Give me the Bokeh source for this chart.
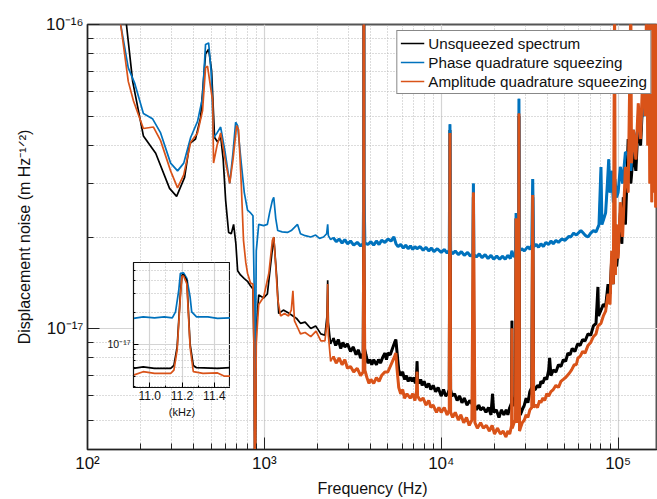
from bokeh.plotting import figure
from bokeh.models import FixedTicker, CustomJSTickFormatter, Legend, LegendItem, Range1d
from bokeh.layouts import column
from bokeh.embed import file_html
from bokeh.resources import INLINE

UNIT = 1e-18  # values below are in units of 1e-18 m Hz^-1/2
FONT = "Liberation Sans"
C_BLACK = "#000000"
C_BLUE = "#0072BD"
C_ORANGE = "#D95319"

# ---------------- main spectrum data (Hz, 1e-18 m/rtHz) ----------------
f_black = [150, 166, 180, 207, 243, 291, 319, 354, 378, 408, 436, 465, 484, 503, 523, 545, 566, 585, 604, 628,
           650, 670, 690, 706, 733, 770, 803, 836, 862, 875, 881, 890, 900, 929, 991, 1040, 1087, 1130, 1175, 1205,
           1280, 1355, 1450, 1520, 1600, 1700, 1830, 1950, 2085, 2200, 2260, 2280, 2300,
           2370, 2450, 2530, 2620, 2700, 2780, 2850, 2950, 3070, 3180, 3300, 3400, 3500, 3620, 3645, 3650, 3655, 3680,
           3750, 3850, 3950, 4050, 4150, 4300, 4420, 4540, 4650, 4800, 4900, 4990, 5150, 5300, 5450, 5540, 5620, 5750,
           5900, 6050, 6200, 6350, 6500, 6680, 6850, 7000, 7150, 7250, 7300, 7350, 7500, 7650, 7800, 8000, 8250, 8500,
           8730, 9000, 9300, 9600, 10000, 10300, 10600, 10900, 11100, 11200, 11300, 11500, 11900, 12300, 12700, 13100,
           13500, 14000, 14500, 15100, 15200, 15300, 15800, 16300, 16700, 17300, 17900, 18500, 19100, 19500, 19800,
           20500, 21200, 21900, 22600, 23300, 23800, 24400, 25000, 25100, 25200, 25800, 26300, 26500, 26700, 27300,
           27500, 27700, 28000, 28700, 29500, 30200, 30900, 31700, 32500, 32900, 33300, 34000, 35000, 36000, 36600,
           37500, 38500, 39500, 40500, 41000, 41700, 43000, 44500, 46000, 47500, 49000, 50500, 52000, 53500, 55000,
           57000, 59000, 61000, 63000, 65000, 67600, 70000, 72500, 75000, 76900, 77500, 80000, 82500, 85000, 87700,
           90000, 92000, 94000, 96000, 98000, 100000, 103000, 105000, 107000, 110000, 114000, 118000, 122000, 126000,
           130000, 134000, 138000, 142000, 146000, 150000, 167000]
v_black = [150, 100, 65, 43, 37.7, 28.9, 27.2, 31.4, 40.6, 42, 49.5, 80, 83, 70.5, 42.5, 41, 43, 36, 26.4, 20.7,
           20.5, 22, 19, 15.5, 15, 14.6, 14.3, 13.8, 13.5, 8, 3, 3, 10, 12.9, 12.6, 13, 16.4, 20, 14.7, 11.2,
           11.5, 11.3, 11, 10.8, 10.4, 10.5, 10, 10.2, 9.6, 9.5, 11, 14.4, 10.5,
           8.9, 9.3, 8.8, 9.2, 8.6, 9.0, 8.7, 8.9, 8.4, 8.7, 8.2, 8.5, 8.0, 8.3, 20, 120, 20, 8.6,
           8.2, 7.7, 7.9, 7.6, 7.9, 7.6, 7.9, 7.7, 8.0, 8.3, 7.9, 8.3, 8.2, 8.6, 9.0, 9.2, 8.4, 7.3,
           7.0, 7.2, 6.8, 7.0, 6.7, 6.9, 6.7, 6.9, 6.6, 7.0, 7.8, 6.8, 6.6, 6.8, 6.5, 6.7, 6.4, 6.6,
           6.3, 6.5, 6.2, 6.4, 6.0, 6.3, 6.0, 6.1, 6.3, 45, 6.3, 6.0, 6.1, 5.8, 6.0, 5.7,
           5.9, 5.6, 5.8, 5.6, 27, 5.7, 5.4, 5.6, 5.4, 5.5, 5.3, 5.5, 5.2, 6.1, 5.3,
           5.4, 5.1, 5.4, 5.2, 5.4, 5.2, 5.5, 5.7, 10.6, 5.6, 5.6, 6.0, 23, 6.0, 6.5,
           50, 5.6, 5.2, 5.4, 5.6, 5.9, 5.7, 6.2, 6.4, 27, 6.3, 6.3, 6.5, 6.4, 6.7,
           6.6, 6.9, 6.8, 7.3, 8.0, 7.0, 7.3, 7.2, 7.6, 7.5, 7.9, 7.8, 8.3, 8.2, 8.6,
           8.4, 8.9, 8.8, 9.2, 9.1, 9.6, 9.5, 10.2, 10.4, 13.7, 11.0, 11.5, 12.0, 11.8, 14.0,
           13, 17, 14, 22, 16, 18, 24, 19, 27, 22, 42, 30, 38, 33,
           48, 40, 58, 50, 80, 110, 130]

f_blue = [150, 154, 170, 185, 207, 233, 259, 295, 323, 350, 383, 419, 447, 465, 484, 500, 516, 540, 566, 600,
          637, 665, 688, 706, 740, 770, 803, 836, 862, 875, 881, 890, 900, 929, 991, 1040, 1070, 1110, 1130, 1160,
          1190, 1260, 1350, 1420, 1480, 1540, 1600, 1700, 1830, 1950, 2050, 2160, 2250, 2280, 2300,
          2370, 2450, 2550, 2650, 2750, 2850, 2950, 3070, 3200, 3350, 3500, 3620, 3645, 3650, 3655, 3700,
          3850, 4000, 4150, 4300, 4450, 4600, 4800, 5000, 5200, 5400, 5550, 5700, 5900, 6100, 6300, 6500,
          6700, 6900, 7100, 7300, 7600, 7900, 8200, 8500, 8800, 9100, 9500, 10000, 10400, 10800, 11100, 11200,
          11300, 11600, 12000, 12500, 13000, 13500, 14100, 14600, 15100, 15200, 15300, 15800, 16400, 17000, 17700,
          18400, 19100, 19800, 20600, 21400, 22200, 23000, 23800, 24600, 25100, 25400, 25800, 26300, 26500, 26700,
          27300, 27500, 27700, 28500, 29500, 30900, 31800, 32500, 32900, 33300, 34500, 35500, 36600, 37800, 39000,
          40500, 41700, 43000, 44500, 46000, 48000, 50000, 52700, 54000, 56000, 58000, 61600, 63500, 65500, 67600,
          70000, 72500, 75000, 76900, 78000, 80000, 81000, 82500, 85000, 87000, 88500, 90000, 92000, 94000, 96000,
          98000, 100000, 103000, 106000, 110000, 114000, 118000, 122000, 126000, 130000, 134000, 138000, 142000,
          146000, 150000, 167000]
v_blue = [140, 100, 72, 64, 51, 49, 44, 35, 33, 35, 42.5, 48, 57.5, 86, 87, 70, 42.5, 44, 46, 38,
          30, 38, 47.7, 46.5, 35, 28, 24.5, 24, 23.5, 14, 4.6, 8, 18, 22, 21.8, 22, 24, 26.4, 27, 23,
          21, 20.8, 20.7, 21, 21.5, 22, 20.5, 20.2, 20.0, 20.3, 19.8, 20.0, 20.5, 22, 20.2,
          19.6, 19.9, 19.3, 19.7, 19.1, 19.6, 19.0, 19.4, 18.8, 19.2, 18.7, 19.0, 30, 120, 30, 19.1,
          18.9, 19.3, 18.8, 19.4, 18.9, 19.5, 19.2, 19.7, 19.4, 20.0, 19.0, 18.6, 18.9, 18.4, 18.8, 18.3,
          18.7, 18.2, 18.6, 18.3, 18.6, 18.1, 18.5, 18.0, 18.4, 17.9, 18.3, 17.8, 18.2, 17.7, 18.1, 47,
          18.0, 17.6, 18.0, 17.5, 17.9, 17.4, 17.8, 17.3, 17.6, 30, 17.5, 17.2, 17.6, 17.1, 17.5,
          17.0, 17.4, 16.9, 17.3, 16.9, 17.3, 16.9, 17.4, 17.0, 18, 17.5, 17.2, 17.8, 24, 18.0,
          18.3, 57, 18.0, 18.3, 18.0, 18.6, 18.2, 18.8, 31, 18.6, 18.9, 18.5, 19.0, 18.6, 19.2,
          18.9, 19.4, 19.0, 19.5, 19.2, 19.7, 19.5, 20.1, 20.0, 20.6, 20.3, 21.0, 20.6, 20.2, 20.0,
          20.6, 21.0, 20.8, 21.5, 22, 34, 22, 22.7, 24, 30, 36, 28, 33, 26, 31,
          27, 28, 34, 30, 38, 37.6, 33, 45, 40, 47, 45, 55, 50,
          80, 110, 130]

f_orange = [148, 154, 170, 182, 207, 236, 259, 295, 323, 350, 383, 419, 447, 465, 477, 495, 510, 516, 540, 566,
            600, 637, 665, 697, 715, 740, 762, 785, 803, 836, 862, 875, 881, 890, 900, 929, 991, 1060, 1110, 1130,
            1160, 1190, 1235, 1300, 1370, 1420, 1450, 1480, 1550, 1600, 1700, 1830, 1960, 2085, 2200, 2260, 2280, 2300,
            2370, 2450, 2550, 2650, 2750, 2850, 2950, 3070, 3200, 3350, 3500, 3620, 3645, 3650, 3655, 3700,
            3800, 3900, 4000, 4150, 4300, 4450, 4600, 4800, 4990, 5150, 5300, 5450, 5540, 5620, 5750, 5900,
            6050, 6200, 6400, 6680, 6900, 7100, 7250, 7300, 7350, 7600, 7900, 8200, 8500, 8730, 9000, 9400,
            9700, 10000, 10400, 10800, 11100, 11200, 11300, 11600, 12000, 12500, 12900, 13400, 13900, 14400, 14900,
            15200, 15500, 16000, 16700, 17300, 18000, 18700, 19400, 20000, 20800, 21600, 22400, 23200, 23800, 24400,
            25000, 25100, 25200, 25800, 26300, 26500, 26700, 27300, 27500, 27700, 28000, 28700, 29500, 30200, 30900,
            31700, 32500, 32900, 33300, 34000, 35000, 36000, 36600, 37500, 38500, 39500, 40500, 41700, 43000, 44500,
            46000, 47500, 49000, 50500, 52700, 54500, 56500, 58000, 59300, 61000, 63000, 65000, 67600, 70000, 72500,
            75000, 77000, 80000, 82500, 85000, 87700, 90000, 92000, 94000, 95500, 96500, 98000, 100000, 103000,
            106000, 110000, 114000, 118000, 119000, 122000, 126000, 130000, 134000, 138000, 142000, 145000, 147000,
            149000, 151000, 153000, 155000, 157000, 159000, 161000, 163000, 165000, 167000]
v_orange = [140, 100, 65, 56, 45.5, 46, 41.5, 33, 29, 32, 41, 44, 52, 72, 73, 63, 56, 35, 40, 44,
            36, 30, 36, 46.5, 45, 30, 19.5, 16.5, 15.2, 14.1, 14.0, 8, 3, 3, 9, 12, 12.7, 15.2, 19.5, 20,
            16, 12.5, 11, 11.2, 11, 11.5, 13.3, 10.6, 10, 9.6, 9.7, 9.4, 9.8, 9.1, 9.1, 10.5, 14, 9.5,
            7.8, 8.1, 7.7, 8.0, 7.6, 7.9, 7.4, 7.5, 7.2, 7.4, 7.0, 7.2, 20, 125, 20, 7.3,
            6.9, 6.6, 6.8, 6.6, 6.9, 6.7, 7.0, 7.2, 7.2, 7.5, 7.8, 8.1, 8.3, 7.4, 6.4, 6.1,
            6.3, 5.9, 6.1, 5.9, 6.1, 5.8, 6.2, 7.2, 6.0, 5.8, 5.9, 5.6, 5.8, 5.5, 5.6, 5.3,
            5.5, 5.3, 5.5, 5.2, 5.4, 44, 5.3, 5.1, 5.3, 5.0, 5.2, 4.9, 5.1, 4.8, 5.0,
            28, 4.9, 4.7, 4.9, 4.7, 4.8, 4.6, 4.8, 4.5, 4.7, 4.5, 4.6, 4.4, 4.6, 4.5,
            4.8, 10, 4.7, 4.9, 5.0, 23, 4.9, 5.2, 51, 4.6, 4.7, 4.9, 5.0, 5.2, 5.1,
            5.4, 5.5, 27.5, 5.5, 5.6, 5.5, 5.8, 5.7, 5.9, 5.8, 6.1, 6.0, 6.2, 6.3, 6.5,
            6.4, 6.7, 6.8, 6.9, 7.1, 7.3, 7.6, 7.6, 8.0, 8.1, 8.4, 8.3, 8.8, 9.0, 9.4,
            9.6, 10.2, 10.4, 11.0, 11.4, 13.0, 12, 18, 14, 120, 15, 22, 17, 26,
            20, 34, 28, 120, 35, 45, 36, 55, 42, 70, 50, 120, 40,
            120, 30, 120, 26, 120, 28, 120, 25, 120, 30]

# ---------------- inset data (kHz, 1e-18 m/rtHz) ----------------
fi_blue = [10.90, 10.96, 11.03, 11.09, 11.14, 11.16, 11.18, 11.19, 11.21, 11.23, 11.25, 11.26, 11.29, 11.36, 11.42, 11.50]
vi_blue = [17.5, 18.1, 17.7, 18.1, 17.7, 20.2, 32.3, 46.5, 47.0, 41.7, 27.9, 20.2, 18.1, 18.1, 17.5, 17.7]
fi_black = [10.90, 10.96, 11.03, 11.13, 11.15, 11.17, 11.19, 11.20, 11.21, 11.23, 11.25, 11.27, 11.29, 11.42, 11.50]
vi_black = [5.9, 6.1, 5.9, 5.9, 6.3, 9.4, 30, 45, 45, 40, 10, 6.3, 6.0, 5.9, 6.0]
fi_orange = [10.90, 10.96, 11.03, 11.13, 11.15, 11.17, 11.19, 11.20, 11.21, 11.23, 11.25, 11.27, 11.33, 11.42, 11.46, 11.50]
vi_orange = [5.1, 5.5, 5.3, 5.3, 5.7, 8.8, 28, 44, 44, 37, 9.4, 5.5, 5.3, 5.35, 5.0, 5.0]

# ---------------- ticks ----------------
x_major = [1e2, 1e3, 1e4, 1e5]
x_minor = [m * d for d in (1e2, 1e3, 1e4, 1e5) for m in range(2, 10)]
y_major = [1e-17, 1e-16]
y_minor = [m * 1e-18 for m in range(2, 10)] + [m * 1e-17 for m in range(2, 10)]
xi_major = [11.0, 11.2, 11.4]
xi_minor = [10.9, 11.1, 11.3, 11.5]
yi_major = [1e-17]
yi_minor = [m * 1e-18 for m in range(2, 10)] + [m * 1e-17 for m in range(2, 7)]

LEGEND = ["Unsqueezed spectrum", "Phase quadrature squeezing", "Amplitude quadrature squeezing"]

sup_js = """
const sup = {"-":"\u207b","0":"\u2070","1":"\u00b9","2":"\u00b2","3":"\u00b3","4":"\u2074","5":"\u2075","6":"\u2076","7":"\u2077","8":"\u2078","9":"\u2079"};
const e = Math.round(Math.log10(tick));
return "10" + String(e).split("").map(c => sup[c]).join("");
"""


def scaled(vals):
    return [v * UNIT for v in vals]


def split_hi(f, v, fcut):
    ff = [a for a in f if a >= fcut]
    vv = [b for a, b in zip(f, v) if a >= fcut]
    return ff, vv


p = figure(width=657, height=499, x_axis_type="log", y_axis_type="log",
           x_range=Range1d(100, 167000), y_range=Range1d(4e-18, 1e-16),
           output_backend="svg", toolbar_location=None,
           min_border_left=87, min_border_right=0, min_border_top=24, min_border_bottom=50)
p.outline_line_color = "#555555"
p.outline_line_width = 2
p.background_fill_color = "white"

series = [(f_black, v_black, C_BLACK), (f_blue, v_blue, C_BLUE), (f_orange, v_orange, C_ORANGE)]
legend_items = []
for (f, v, c), lab in zip(series, LEGEND):
    r = p.line(f, scaled(v), line_color=c, line_width=1.7)
    fh, vh = split_hi(f, v, 2400)
    p.line(fh, scaled(vh), line_color=c, line_width=3.0)
    legend_items.append(LegendItem(label=lab, renderers=[r]))

for ax, maj, mnr in ((p.xaxis[0], x_major, x_minor), (p.yaxis[0], y_major, y_minor)):
    ax.ticker = FixedTicker(ticks=maj, minor_ticks=mnr)
    ax.formatter = CustomJSTickFormatter(code=sup_js)
    ax.major_tick_in = 12
    ax.major_tick_out = 0
    ax.minor_tick_in = 6
    ax.minor_tick_out = 0
    ax.major_tick_line_color = "#222222"
    ax.minor_tick_line_color = "#222222"
    ax.axis_line_color = "#222222"
    ax.major_label_text_font = FONT
    ax.major_label_text_font_size = "17px"
    ax.major_label_text_color = "#111111"
    ax.axis_label_text_font = FONT
    ax.axis_label_text_font_size = "16px"
    ax.axis_label_text_font_style = "normal"
    ax.axis_label_text_color = "#111111"

p.xaxis.axis_label = "Frequency (Hz)"
p.yaxis.axis_label = "Displacement noise (m Hz\u207b\u00b9\u141f\u00b2)"
p.xaxis.major_label_standoff = 4
p.xaxis.axis_label_standoff = 4
p.yaxis.major_label_standoff = 4
p.yaxis.axis_label_standoff = 10

for g in (p.xgrid[0], p.ygrid[0]):
    g.grid_line_color = "#d4d4d4"
    g.grid_line_width = 1.2
    g.minor_grid_line_color = "#b8b8b8"
    g.minor_grid_line_dash = "1 2"
    g.minor_grid_line_width = 1

leg = Legend(items=legend_items, location="top_right", margin=6, padding=3, spacing=1,
             label_height=18, glyph_height=18, glyph_width=24, label_standoff=4,
             label_text_font=FONT, label_text_font_size="15.2px", label_text_color="#111111",
             border_line_color="#111111", border_line_width=1.2, background_fill_alpha=1)
p.add_layout(leg)

# ---------------- inset ----------------
# Bokeh aligns the left borders of plots in a column, so the inset keeps the same 87px left border.
ins = figure(width=184, height=172, y_axis_type="log",
             x_range=Range1d(10.9, 11.5), y_range=Range1d(3.9e-18, 5.9e-17),
             output_backend="svg", toolbar_location=None,
             min_border_left=87, min_border_right=0, min_border_top=5, min_border_bottom=42,
             border_fill_alpha=0, background_fill_color="white",
             styles={"position": "absolute", "left": "46px", "top": "257px", "z-index": "10"})
ins.outline_line_color = "#111111"
ins.outline_line_width = 1.2
ins.line(fi_blue, scaled(vi_blue), line_color=C_BLUE, line_width=1.7)
ins.line(fi_black, scaled(vi_black), line_color=C_BLACK, line_width=1.7)
ins.line(fi_orange, scaled(vi_orange), line_color=C_ORANGE, line_width=1.7)

ins.xaxis.ticker = FixedTicker(ticks=xi_major, minor_ticks=xi_minor)
ins.yaxis.ticker = FixedTicker(ticks=yi_major, minor_ticks=yi_minor)
ins.yaxis.formatter = CustomJSTickFormatter(code=sup_js)
ins.xaxis.formatter = CustomJSTickFormatter(code="return tick.toFixed(1);")
for ax in (ins.xaxis[0], ins.yaxis[0]):
    ax.major_tick_in = 5
    ax.major_tick_out = 0
    ax.minor_tick_in = 2
    ax.minor_tick_out = 0
    ax.axis_line_color = "#111111"
    ax.major_label_text_font = FONT
    ax.major_label_text_color = "#111111"
    ax.axis_label_text_font = FONT
    ax.axis_label_text_font_style = "normal"
    ax.axis_label_text_color = "#111111"
ins.xaxis.major_label_text_font_size = "12px"
ins.yaxis.major_label_text_font_size = "10.5px"
ins.xaxis.axis_label = "(kHz)"
ins.xaxis.axis_label_text_font_size = "11px"
ins.xaxis.axis_label_standoff = 3
ins.xaxis.major_label_standoff = 3
ins.yaxis.major_label_standoff = 3
for g in (ins.xgrid[0], ins.ygrid[0]):
    g.grid_line_color = "#d4d4d4"
    g.grid_line_width = 1.2
    g.minor_grid_line_color = "#b8b8b8"
    g.minor_grid_line_dash = "1 2"

layout = column(p, ins)
open("out.html", "w").write(file_html(layout, INLINE))
